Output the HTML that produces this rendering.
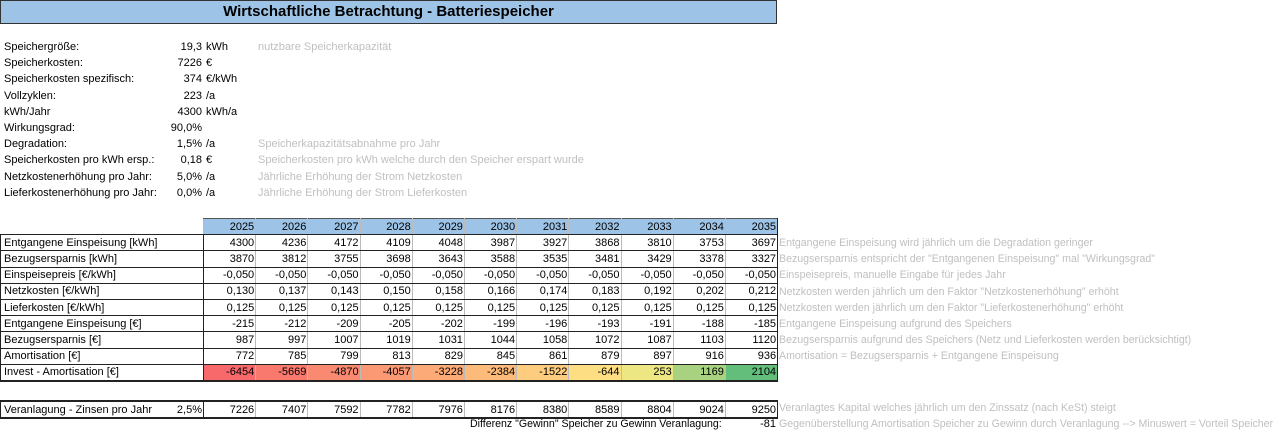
<!DOCTYPE html>
<html><head><meta charset="utf-8"><style>
body{margin:0;width:1280px;height:433px;background:#fff;font-family:"Liberation Sans",sans-serif;font-size:11px;color:#000;position:relative;overflow:hidden}
.a{position:absolute;white-space:nowrap;line-height:16px}
.g{color:#c0c0c0}
.title{position:absolute;left:0;top:0;width:775px;height:22px;background:#9dc3e6;border:1px solid #333;text-align:center;font-weight:bold;font-size:15px;line-height:22px}
table{position:absolute;left:0;border-collapse:collapse;table-layout:fixed}
td{padding:0 1px 0 3px;height:15.2px;line-height:14px;text-align:right;border-left:1px solid #bbb;border-right:1px solid #bbb;border-top:1px solid #222;border-bottom:1px solid #222;white-space:nowrap;overflow:hidden}
td.l{text-align:left;border-left:1px solid #222;border-right:1px solid #222}
tr.h td{background:#9dc3e6;border-top:1px solid #555;border-bottom:1px solid #222}
tr.h td.e{background:none;border:none}
td.last{border-right:1px solid #222}
.r{font-size:10.6px}
</style></head><body>
<div class="title">Wirtschaftliche Betrachtung - Batteriespeicher</div>

<div class="a" style="left:4px;top:39px;line-height:16.2px">Speichergröße:<br>Speicherkosten:<br>Speicherkosten spezifisch:<br>Vollzyklen:<br>kWh/Jahr<br>Wirkungsgrad:<br>Degradation:<br>Speicherkosten pro kWh ersp.:<br>Netzkostenerhöhung pro Jahr:<br>Lieferkostenerhöhung pro Jahr:</div>
<div class="a" style="left:140px;width:62px;text-align:right;top:39px;line-height:16.2px">19,3<br>7226<br>374<br>223<br>4300<br>90,0%<br>1,5%<br>0,18<br>5,0%<br>0,0%</div>
<div class="a" style="left:206px;top:39px;line-height:16.2px">kWh<br>€<br>€/kWh<br>/a<br>kWh/a<br><br>/a<br>€<br>/a<br>/a</div>
<div class="a g" style="left:258px;top:39px;line-height:16.2px">nutzbare Speicherkapazität<br><br><br><br><br><br>Speicherkapazitätsabnahme pro Jahr<br>Speicherkosten pro kWh welche durch den Speicher erspart wurde<br>Jährliche Erhöhung der Strom Netzkosten<br>Jährliche Erhöhung der Strom Lieferkosten</div>

<table style="top:218px;width:778px">
<colgroup><col style="width:203px"><col span="11" style="width:52.2px"></colgroup>
<tr class="h"><td class="e"></td><td>2025</td><td>2026</td><td>2027</td><td>2028</td><td>2029</td><td>2030</td><td>2031</td><td>2032</td><td>2033</td><td>2034</td><td class="last">2035</td></tr>
<tr><td class="l">Entgangene Einspeisung [kWh]</td><td>4300</td><td>4236</td><td>4172</td><td>4109</td><td>4048</td><td>3987</td><td>3927</td><td>3868</td><td>3810</td><td>3753</td><td class="last">3697</td></tr>
<tr><td class="l">Bezugsersparnis [kWh]</td><td>3870</td><td>3812</td><td>3755</td><td>3698</td><td>3643</td><td>3588</td><td>3535</td><td>3481</td><td>3429</td><td>3378</td><td class="last">3327</td></tr>
<tr><td class="l">Einspeisepreis [€/kWh]</td><td>-0,050</td><td>-0,050</td><td>-0,050</td><td>-0,050</td><td>-0,050</td><td>-0,050</td><td>-0,050</td><td>-0,050</td><td>-0,050</td><td>-0,050</td><td class="last">-0,050</td></tr>
<tr><td class="l">Netzkosten [€/kWh]</td><td>0,130</td><td>0,137</td><td>0,143</td><td>0,150</td><td>0,158</td><td>0,166</td><td>0,174</td><td>0,183</td><td>0,192</td><td>0,202</td><td class="last">0,212</td></tr>
<tr><td class="l">Lieferkosten [€/kWh]</td><td>0,125</td><td>0,125</td><td>0,125</td><td>0,125</td><td>0,125</td><td>0,125</td><td>0,125</td><td>0,125</td><td>0,125</td><td>0,125</td><td class="last">0,125</td></tr>
<tr><td class="l">Entgangene Einspeisung [€]</td><td>-215</td><td>-212</td><td>-209</td><td>-205</td><td>-202</td><td>-199</td><td>-196</td><td>-193</td><td>-191</td><td>-188</td><td class="last">-185</td></tr>
<tr><td class="l">Bezugsersparnis [€]</td><td>987</td><td>997</td><td>1007</td><td>1019</td><td>1031</td><td>1044</td><td>1058</td><td>1072</td><td>1087</td><td>1103</td><td class="last">1120</td></tr>
<tr><td class="l">Amortisation [€]</td><td>772</td><td>785</td><td>799</td><td>813</td><td>829</td><td>845</td><td>861</td><td>879</td><td>897</td><td>916</td><td class="last">936</td></tr>
<tr><td class="l" style="border-bottom:2px solid #222">Invest - Amortisation [€]</td><td style="background:#f8696b;border-bottom:2px solid #222">-6454</td><td style="background:#f9796e;border-bottom:2px solid #222">-5669</td><td style="background:#fa8971;border-bottom:2px solid #222">-4870</td><td style="background:#fb9974;border-bottom:2px solid #222">-4057</td><td style="background:#fcaa78;border-bottom:2px solid #222">-3228</td><td style="background:#fcbb7b;border-bottom:2px solid #222">-2384</td><td style="background:#fdcc7e;border-bottom:2px solid #222">-1522</td><td style="background:#fede82;border-bottom:2px solid #222">-644</td><td style="background:#ece683;border-bottom:2px solid #222">253</td><td style="background:#a8d27f;border-bottom:2px solid #222">1169</td><td class="last" style="background:#63be7b;border-bottom:2px solid #222">2104</td></tr>
</table>

<table style="top:400px;width:778px">
<colgroup><col style="width:160px"><col style="width:43px"><col span="11" style="width:52.2px"></colgroup>
<tr><td class="l" style="border-right:none;border-bottom:2px solid #222;border-top:2px solid #222">Veranlagung - Zinsen pro Jahr</td><td style="border-left:none;border-right:1px solid #222;border-bottom:2px solid #222;border-top:2px solid #222">2,5%</td><td style="border-bottom:2px solid #222;border-top:2px solid #222">7226</td><td style="border-bottom:2px solid #222;border-top:2px solid #222">7407</td><td style="border-bottom:2px solid #222;border-top:2px solid #222">7592</td><td style="border-bottom:2px solid #222;border-top:2px solid #222">7782</td><td style="border-bottom:2px solid #222;border-top:2px solid #222">7976</td><td style="border-bottom:2px solid #222;border-top:2px solid #222">8176</td><td style="border-bottom:2px solid #222;border-top:2px solid #222">8380</td><td style="border-bottom:2px solid #222;border-top:2px solid #222">8589</td><td style="border-bottom:2px solid #222;border-top:2px solid #222">8804</td><td style="border-bottom:2px solid #222;border-top:2px solid #222">9024</td><td class="last" style="border-bottom:2px solid #222;border-top:2px solid #222">9250</td></tr>
</table>

<div class="a" style="left:470px;top:416px;font-size:10.6px">Differenz "Gewinn" Speicher zu Gewinn Veranlagung:</div>
<div class="a" style="left:720px;width:56px;text-align:right;top:416px">-81</div>

<div class="a g r" style="left:779px;top:235px;line-height:16.2px">Entgangene Einspeisung wird jährlich um die Degradation geringer<br>Bezugsersparnis entspricht der "Entgangenen Einspeisung" mal "Wirkungsgrad"<br>Einspeisepreis, manuelle Eingabe für jedes Jahr<br>Netzkosten werden jährlich um den Faktor "Netzkostenerhöhung" erhöht<br>Netzkosten werden jährlich um den Faktor "Lieferkostenerhöhung" erhöht<br>Entgangene Einspeisung aufgrund des Speichers<br>Bezugsersparnis aufgrund des Speichers (Netz und Lieferkosten werden berücksichtigt)<br>Amortisation = Bezugsersparnis + Entgangene Einspeisung</div>
<div class="a g r" style="left:779px;top:400px">Veranlagtes Kapital welches jährlich um den Zinssatz (nach KeSt) steigt</div>
<div class="a g r" style="left:779px;top:416px">Gegenüberstellung Amortisation Speicher zu Gewinn durch Veranlagung --&gt; Minuswert = Vorteil Speicher</div>
</body></html>
